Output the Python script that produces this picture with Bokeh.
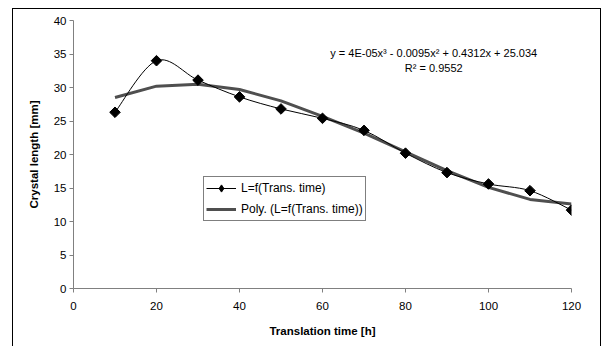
import math
from bokeh.plotting import figure
from bokeh.models import Range1d, SingleIntervalTicker, Legend, LegendItem, Label
from bokeh.embed import file_html
from bokeh.resources import INLINE

# ---- data ----
trans_time = [10, 20, 30, 40, 50, 60, 70, 80, 90, 100, 110, 120]
crystal_length = [26.3, 34.0, 31.1, 28.6, 26.8, 25.4, 23.6, 20.2, 17.3, 15.6, 14.6, 11.7]
trend_length = [28.5, 30.2, 30.5, 29.7, 28.0, 25.7, 23.2, 20.4, 17.6, 15.1, 13.3, 12.6]
equation_text = "y = 4E-05x\u00b3 - 0.0095x\u00b2 + 0.4312x + 25.034"
r2_text = "R\u00b2 = 0.9552"
series_name = "L=f(Trans. time)"
trend_name = "Poly. (L=f(Trans. time))"

FONT = "Liberation Sans"

p = figure(width=589, height=338, output_backend="svg", toolbar_location=None,
           x_range=Range1d(0, 120), y_range=Range1d(0, 40),
           min_border_left=60, min_border_right=31, min_border_top=11, min_border_bottom=59)
p.styles = {"border-left": "1px solid black", "border-top": "1px solid black",
            "border-right": "1px solid black", "margin-left": "12px", "margin-top": "8px"}

p.xgrid.visible = False
p.ygrid.visible = False
p.outline_line_color = None

for ax in (p.xaxis[0], p.yaxis[0]):
    ax.axis_line_color = "#808080"
    ax.major_tick_line_color = "#808080"
    ax.minor_tick_line_color = None
    ax.major_tick_in = 0
    ax.major_tick_out = 4
    ax.major_label_text_font = FONT
    ax.major_label_text_font_size = "11.5px"
    ax.major_label_text_color = "black"
    ax.axis_label_text_font = FONT
    ax.axis_label_text_font_size = "11.5px"
    ax.axis_label_text_font_style = "bold"
    ax.axis_label_text_color = "black"

p.xaxis.ticker = SingleIntervalTicker(interval=20)
p.yaxis.ticker = SingleIntervalTicker(interval=5)
p.xaxis.axis_label = "Translation time [h]"
p.yaxis.axis_label = "Crystal length [mm]"
p.xaxis.major_label_standoff = 9
p.yaxis.major_label_standoff = 3
p.xaxis.axis_label_standoff = 12
p.yaxis.axis_label_standoff = 11

# trendline
trend_r = p.line(trans_time, trend_length, line_color="#4f4f4f", line_width=3)

# smoothed data line (Catmull-Rom -> Bezier)
n = len(trans_time)
x0, y0, x1, y1, cx0, cy0, cx1, cy1 = [], [], [], [], [], [], [], []
for i in range(n - 1):
    xm, ym = (trans_time[i - 1], crystal_length[i - 1]) if i > 0 else (trans_time[i], crystal_length[i])
    xa, ya = trans_time[i], crystal_length[i]
    xb, yb = trans_time[i + 1], crystal_length[i + 1]
    xp, yp = (trans_time[i + 2], crystal_length[i + 2]) if i + 2 < n else (xb, yb)
    x0.append(xa); y0.append(ya); x1.append(xb); y1.append(yb)
    cx0.append(xa + (xb - xm) / 6.0); cy0.append(ya + (yb - ym) / 6.0)
    cx1.append(xb - (xp - xa) / 6.0); cy1.append(yb - (yp - ya) / 6.0)
p.bezier(x0=x0, y0=y0, x1=x1, y1=y1, cx0=cx0, cy0=cy0, cx1=cx1, cy1=cy1,
         line_color="black", line_width=1)
legend_line = p.line(trans_time[:1], crystal_length[:1], line_color="black", line_width=1)
legend_mark = p.scatter(trans_time[:1], crystal_length[:1], marker="diamond", size=9,
                        fill_color="black", line_color="black")
pts = p.scatter(trans_time, crystal_length, marker="square", angle=math.pi / 4, size=7.5,
                fill_color="black", line_color="black")

legend = Legend(items=[LegendItem(label=series_name, renderers=[legend_line, legend_mark]),
                       LegendItem(label=trend_name, renderers=[trend_r])],
                location=(130, 67), orientation="vertical",
                label_text_font=FONT, label_text_font_size="12px",
                label_text_color="black",
                border_line_color="black", border_line_width=1,
                background_fill_color="white", background_fill_alpha=1,
                glyph_width=30, glyph_height=18, label_height=18,
                label_standoff=5, spacing=3, padding=2, margin=0)
p.add_layout(legend, "center")

p.add_layout(Label(x=86.8, y=35.1, text=equation_text, text_align="center",
                   text_baseline="middle", text_font=FONT, text_font_size="11px",
                   text_color="black"))
p.add_layout(Label(x=86.8, y=32.9, text=r2_text, text_align="center",
                   text_baseline="middle", text_font=FONT, text_font_size="11px",
                   text_color="black"))

open("out.html", "w").write(file_html(p, INLINE))
